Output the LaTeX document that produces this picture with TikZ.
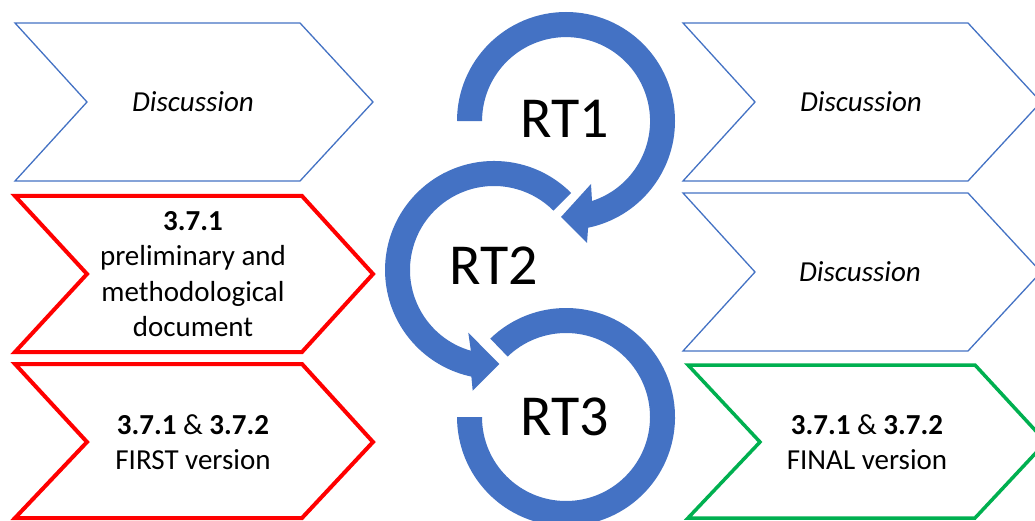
\documentclass[tikz,border=0pt]{standalone}
\usepackage{fontspec}
\setmainfont{Carlito}
\definecolor{accblue}{HTML}{4472C4}
\definecolor{accgreen}{HTML}{00B050}
\definecolor{accred}{HTML}{FF0000}
\begin{document}
\begin{tikzpicture}[x=1pt,y=-1pt,
  chevblue/.style={draw=accblue, line width=1.3pt, line join=miter, fill=white},
  chevred/.style={draw=accred, line width=4pt, line join=miter, fill=white},
  chevgreen/.style={draw=accgreen, line width=3.5pt, line join=miter, fill=white},
  ringarrow/.style={fill=accblue},
  lbl/.style={font=\fontsize{29}{35.3}\selectfont, align=center, inner sep=0pt},
  rtlbl/.style={font=\fontsize{58}{60}\selectfont, inner sep=0pt}]
\useasboundingbox (0,0) rectangle (1035,521);
\clip (0,0) rectangle (1035,521);
\fill[white] (0,0) rectangle (1035,521);

% left chevrons
\draw[chevblue] (15,23) -- (300,23) -- (373,102) -- (300,181) -- (15,181) -- (87,102) -- cycle;
\draw[chevred] (15,196) -- (302,196) -- (373,274) -- (302,352) -- (15,352) -- (87,274) -- cycle;
\draw[chevred] (15,364) -- (302,364) -- (373,442) -- (302,518) -- (15,518) -- (87,442) -- cycle;
% right chevrons
\draw[chevblue] (683,23) -- (968,23) -- (1041,102) -- (968,181) -- (683,181) -- (755,102) -- cycle;
\draw[chevblue] (683,193) -- (968,193) -- (1041,272) -- (968,351) -- (683,351) -- (755,272) -- cycle;
\draw[chevgreen] (688,365) -- (975,365) -- (1046,442) -- (975,518) -- (688,518) -- (760,442) -- cycle;

% circular arrows
\fill[ringarrow] (457,121) arc[start angle=180,end angle=438.3,radius=109]
  -- (587,243) -- (561,217) -- (591,184) -- (592,201)
  arc[start angle=432,end angle=180,radius=84] -- cycle;
\fill[ringarrow] (571.1,192.9) arc[start angle=315,end angle=102,radius=109]
  -- (472.7,390.7) -- (499.3,364) -- (468.3,332.7) -- (470.85,350.75)
  arc[start angle=106,end angle=315,radius=84] -- cycle;
\fill[ringarrow] (490.3,338.6) arc[start angle=226,end angle=540,radius=109]
  -- (482,417) arc[start angle=540,end angle=226,radius=84] -- cycle;

% labels
\node[rtlbl] (rt1) at (565,118.5) {RT1};
\node[rtlbl] (rt2) at (494,266) {RT2};
\node[rtlbl] (rt3) at (565,417) {RT3};

\node[lbl] (disc1) at (193,102) {\itshape Discussion};
\node[lbl] (prelim) at (193,274) {\textbf{3.7.1}\\preliminary and\\methodological\\document};
\node[lbl] (first) at (193,442) {\textbf{3.7.1} \& \textbf{3.7.2}\\FIRST version};
\node[lbl] (disc2) at (861,102) {\itshape Discussion};
\node[lbl] (disc3) at (860,272) {\itshape Discussion};
\node[lbl] (final) at (867,442) {\textbf{3.7.1} \& \textbf{3.7.2}\\FINAL version};
\end{tikzpicture}
\end{document}
